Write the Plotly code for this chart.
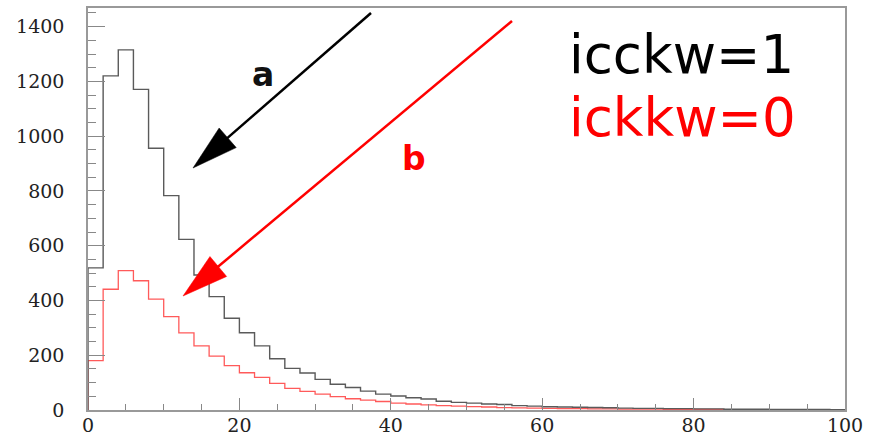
import math
import plotly.graph_objects as go

# ---------------- data ----------------
x_min, x_max, bin_width = 0, 100, 2
icckw1_counts = [519, 1220, 1315, 1171, 956, 783, 623, 493, 414, 335,
                 282, 234, 187, 152, 135, 112, 94, 82, 69, 58,
                 51, 45, 40, 32, 28, 25, 22, 20, 16, 14,
                 12, 11, 10, 9, 8, 7, 6, 6, 5, 5,
                 4, 4, 3, 3, 3, 2, 2, 2, 2, 1]
ickkw0_counts = [180, 441, 509, 472, 405, 341, 282, 234, 197, 162,
                 136, 119, 97, 79, 68, 58, 49, 41, 36, 31,
                 25, 22, 19, 16, 14, 12, 11, 9, 8, 7,
                 6, 5, 5, 4, 4, 3, 3, 3, 2, 2,
                 2, 2, 1, 1, 1, 1, 1, 1, 1, 1]
x_ticks = [0, 20, 40, 60, 80, 100]
y_ticks = [0, 200, 400, 600, 800, 1000, 1200, 1400]
label_black = "icckw=1"
label_red = "ickkw=0"

# ---------------- layout geometry ----------------
W, H = 869, 438
ML, MR, MT, MB = 88, 24, 8, 28
PW, PH = W - ML - MR, H - MT - MB


def paper(px, py):
    return (px - ML) / PW, (H - MB - py) / PH


def step_xy(counts):
    edges = [x_min + i * bin_width for i in range(len(counts))]
    xs = [x_min] + edges + [x_max, x_max]
    ys = [0] + counts + [counts[-1], 0]
    return xs, ys


fig = go.Figure()
for counts, color, width in [(ickkw0_counts, "#ff5a5a", 1.3),
                             (icckw1_counts, "#5a5a5a", 1.4)]:
    xs, ys = step_xy(counts)
    fig.add_trace(go.Scatter(x=xs, y=ys, mode="lines", line_shape="hv",
                             line=dict(color=color, width=width),
                             showlegend=False, hoverinfo="skip"))

shapes = []


def arrow(start, tip, color, lw=2.5, head_len=46, head_half=13):
    sx, sy = start
    tx, ty = tip
    dx, dy = tx - sx, ty - sy
    L = math.hypot(dx, dy)
    ux, uy = dx / L, dy / L
    bx, by = tx - ux * head_len, ty - uy * head_len
    nx, ny = -uy, ux
    p1 = paper(sx, sy)
    p2 = paper(bx + ux * 4, by + uy * 4)
    shapes.append(dict(type="line", xref="paper", yref="paper",
                       x0=p1[0], y0=p1[1], x1=p2[0], y1=p2[1],
                       line=dict(color=color, width=lw)))
    a = paper(tx, ty)
    b = paper(bx + nx * head_half, by + ny * head_half)
    c = paper(bx - nx * head_half, by - ny * head_half)
    path = f"M{a[0]},{a[1]} L{b[0]},{b[1]} L{c[0]},{c[1]} Z"
    shapes.append(dict(type="path", xref="paper", yref="paper", path=path,
                       fillcolor=color, line=dict(color=color, width=0.5)))


arrow((371, 13), (193, 168), "#000000")
arrow((512, 21), (183, 296), "#ff0000")

annotations = []


def text(px, py, s, color, size, family, anchor="left"):
    x, y = paper(px, py)
    annotations.append(dict(x=x, y=y, xref="paper", yref="paper", text=s,
                            showarrow=False, xanchor=anchor, yanchor="middle",
                            font=dict(family=family, size=size, color=color)))


text(567, 55, label_black, "#000000", 53, "DejaVu Sans")
text(567, 118, label_red, "#ff0000", 53, "DejaVu Sans")
text(263, 74, "<b>a</b>", "#111111", 33, "DejaVu Sans", anchor="center")
text(414, 158, "<b>b</b>", "#ff0000", 33, "DejaVu Sans", anchor="center")

tickfont = dict(family="DejaVu Serif", size=19, color="#222222")
fig.update_layout(
    width=W, height=H,
    margin=dict(l=ML, r=MR, t=MT, b=MB, pad=0, autoexpand=False),
    paper_bgcolor="white", plot_bgcolor="white",
    shapes=shapes, annotations=annotations,
    xaxis=dict(range=[x_min, x_max], tickvals=x_ticks, ticks="inside",
               ticklen=12, tickwidth=1, tickcolor="#888888", automargin=False,
               minor=dict(dtick=5, ticks="inside", ticklen=6, tickcolor="#888888"),
               showgrid=False, zeroline=False, showline=True, linecolor="#999999",
               linewidth=1.5, mirror=True, tickfont=tickfont, ticklabelstandoff=-3),
    yaxis=dict(range=[0, 1468], tickvals=y_ticks, ticks="inside",
               ticklen=17, tickwidth=1, tickcolor="#888888", automargin=False,
               minor=dict(dtick=50, ticks="inside", ticklen=8, tickcolor="#888888"),
               showgrid=False, zeroline=False, showline=True, linecolor="#999999",
               linewidth=1.5, mirror=True, tickfont=tickfont, ticklabelstandoff=18),
)
fig.write_html("out.html")
